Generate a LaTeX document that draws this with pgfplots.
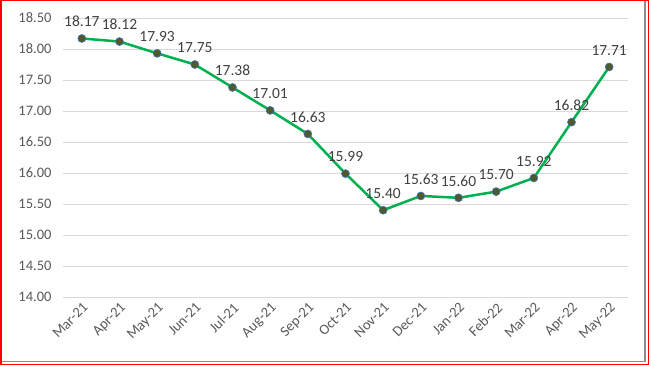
\documentclass[border=0pt]{standalone}
\usepackage{pgfplots}
\pgfplotsset{compat=1.18}
\usepackage{fontspec}
\setmainfont{Carlito}
\definecolor{lgreen}{HTML}{00B050}
\definecolor{mfill}{HTML}{4F5A2A}
\definecolor{mline}{HTML}{4472C4}
\definecolor{tcol}{HTML}{595959}
\definecolor{dcol}{HTML}{404040}
\definecolor{gridc}{HTML}{D9D9D9}
\begin{document}
\begin{tikzpicture}[x=1pt,y=1pt]
\path[use as bounding box] (0,0) rectangle (649,365);
\draw[color=gray!90, line width=1.5pt] (0,3.5) -- (645,3.5) -- (645,365);
\draw[red, line width=1.5pt] (0.75,0.75) rectangle (648.25,364.25);
\begin{axis}[
  at={(63pt,68pt)}, anchor=south west,
  scale only axis, width=565pt, height=279pt,
  xmin=-0.5, xmax=14.5, ymin=14, ymax=18.5,
  ytick={14,14.5,15,15.5,16,16.5,17,17.5,18,18.5},
  yticklabel style={/pgf/number format/fixed, /pgf/number format/fixed zerofill, /pgf/number format/precision=2},
  /pgf/number format/assume math mode=true,
  xtick={0,...,14},
  xticklabels={Mar-21,Apr-21,May-21,Jun-21,Jul-21,Aug-21,Sep-21,Oct-21,Nov-21,Dec-21,Jan-22,Feb-22,Mar-22,Apr-22,May-22},
  x tick label style={rotate=45, anchor=north east, font=\fontsize{14.5}{15}\selectfont, text=tcol, inner sep=1pt},
  y tick label style={font=\fontsize{14.5}{15}\selectfont, text=tcol},
  xticklabel shift=3pt,
  yticklabel shift=8pt,
  ymajorgrids, grid style={gridc, line width=1pt},
  axis line style={draw=none}, major tick style={draw=none},
  clip=false,
  nodes near coords,
  nodes near coords style={font=\fontsize{15.5}{16}\selectfont, text=dcol, /pgf/number format/fixed, /pgf/number format/fixed zerofill, /pgf/number format/precision=2, /pgf/number format/assume math mode=true},
  every node near coord/.append style={yshift=8pt},
]
\addplot[lgreen, line width=2.5pt, mark=*, mark size=4pt, mark options={fill=mfill, draw=mline, line width=0.6pt}]
coordinates {(0,18.17)(1,18.12)(2,17.93)(3,17.75)(4,17.38)(5,17.01)(6,16.63)(7,15.99)(8,15.40)(9,15.63)(10,15.60)(11,15.70)(12,15.92)(13,16.82)(14,17.71)};
\end{axis}
\end{tikzpicture}
\end{document}
